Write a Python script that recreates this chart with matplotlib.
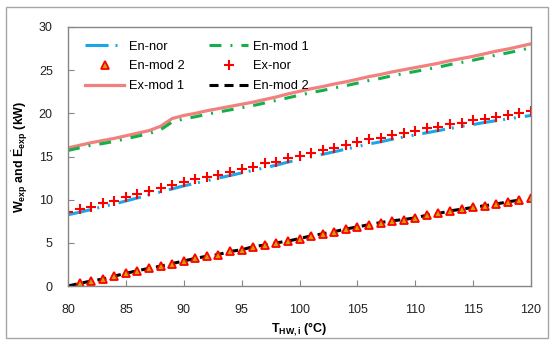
import matplotlib
matplotlib.use("Agg")
import matplotlib.pyplot as plt
from matplotlib.patches import Rectangle

plt.rcParams["font.family"] = ["Liberation Sans", "DejaVu Sans"]
plt.rcParams["mathtext.fontset"] = "custom"
plt.rcParams["mathtext.rm"] = "Liberation Sans"
plt.rcParams["mathtext.bf"] = "Liberation Sans:bold"
plt.rcParams["lines.scale_dashes"] = False

# temperatures 80..120 degC
t_hw = [80, 81, 82, 83, 84, 85, 86, 87, 88, 89, 90, 91, 92, 93, 94, 95, 96, 97, 98, 99, 100,
        101, 102, 103, 104, 105, 106, 107, 108, 109, 110, 111, 112, 113, 114, 115, 116, 117, 118, 119, 120]

en_nor = [8.25, 8.55, 8.85, 9.2, 9.5, 9.85, 10.2, 10.55, 10.9, 11.25, 11.6, 11.9, 12.2, 12.5, 12.8, 13.1,
          13.4, 13.7, 14.0, 14.35, 14.65, 14.95, 15.25, 15.55, 15.85, 16.15, 16.45, 16.7, 17.0, 17.25,
          17.5, 17.75, 18.0, 18.25, 18.5, 18.7, 18.95, 19.15, 19.35, 19.55, 19.75]

ex_nor = [8.6, 8.9, 9.15, 9.6, 9.9, 10.3, 10.65, 11.0, 11.3, 11.65, 12.05, 12.35, 12.65, 12.9, 13.25, 13.55,
          13.8, 14.2, 14.4, 14.8, 15.1, 15.45, 15.7, 15.95, 16.3, 16.7, 17.0, 17.2, 17.5, 17.7,
          18.0, 18.3, 18.45, 18.75, 18.9, 19.2, 19.35, 19.6, 19.8, 20.0, 20.3]

ex_mod1 = [16.0, 16.3, 16.6, 16.85, 17.1, 17.4, 17.7, 18.0, 18.5, 19.4, 19.75, 20.0, 20.3, 20.55, 20.8, 21.05,
           21.3, 21.6, 21.9, 22.25, 22.55, 22.85, 23.1, 23.4, 23.65, 23.95, 24.25, 24.5, 24.8, 25.05,
           25.3, 25.55, 25.8, 26.1, 26.35, 26.6, 26.9, 27.2, 27.45, 27.75, 28.05]

en_mod1 = [15.7, 16.0, 16.3, 16.5, 16.75, 17.05, 17.35, 17.65, 18.1, 19.0, 19.35, 19.6, 19.9, 20.15, 20.4, 20.65,
           20.9, 21.2, 21.5, 21.8, 22.1, 22.4, 22.65, 22.95, 23.2, 23.5, 23.8, 24.05, 24.35, 24.6,
           24.85, 25.1, 25.35, 25.65, 25.9, 26.15, 26.45, 26.75, 27.0, 27.3, 27.6]

# triangles start at 81
t_tri = t_hw[1:]
en_mod2_pts = [0.3, 0.58, 0.8, 1.15, 1.47, 1.77, 2.05, 2.3, 2.6, 2.9, 3.2, 3.5, 3.6, 4.0, 4.2, 4.55, 4.75,
               5.0, 5.2, 5.5, 5.8, 6.05, 6.3, 6.6, 6.85, 7.1, 7.35, 7.55, 7.7, 7.9, 8.2, 8.4, 8.7, 8.9,
               9.1, 9.3, 9.5, 9.75, 9.95, 10.15]

# black dashed line 80..119
t_line2 = t_hw[:-1]
en_mod2_line = [0.0, 0.3, 0.58, 0.8, 1.15, 1.47, 1.77, 2.05, 2.3, 2.6, 2.9, 3.2, 3.45, 3.65, 4.0, 4.2, 4.55,
                4.75, 5.0, 5.2, 5.5, 5.8, 6.05, 6.3, 6.6, 6.85, 7.1, 7.35, 7.55, 7.7, 7.9, 8.2, 8.4, 8.7,
                8.9, 9.1, 9.3, 9.5, 9.75, 9.95]

fig = plt.figure(figsize=(5.52, 3.4), dpi=100)
ax = fig.add_axes([0.1232, 0.1588, 0.8388, 0.7618])

h_ennor, = ax.plot(t_hw, en_nor, color="#1aa7e8", lw=2.2,
                   dashes=(16.6, 5, 1.4, 6.5, 1.4, 6.5), label="En-nor")
h_exmod1, = ax.plot(t_hw, ex_mod1, color="#f2807e", lw=2.3, label="Ex-mod 1")
h_enmod1, = ax.plot(t_hw, en_mod1, color="#13b04a", lw=2.2,
                    dashes=(8.6, 6.5, 1.4, 6.5), label="En-mod 1")
h_line2, = ax.plot(t_line2, en_mod2_line, color="black", lw=2.2,
                   dashes=(6.5, 4.3), label="En-mod 2")
h_exnor, = ax.plot(t_hw, ex_nor, ls="none", marker="+", color="#ff0000",
                   ms=7.5, mew=1.5, label="Ex-nor")
h_tri, = ax.plot(t_tri, en_mod2_pts, ls="none", marker="^", mfc="#c9a400", mec="#ff0000",
                 ms=5.5, mew=1.3, label="En-mod 2")

ax.set_xlim(80, 120)
ax.set_ylim(0, 30)
ax.set_xticks(range(80, 121, 5))
ax.set_yticks(range(0, 31, 5))
ax.tick_params(direction="in", length=4, color="#868686", labelsize=9, labelcolor="#222222")
ax.tick_params(axis="y", pad=11)
ax.tick_params(axis="x", pad=13)
for sp in ax.spines.values():
    sp.set_color("#868686")
    sp.set_linewidth(1.0)

ax.set_xlabel(r"$\mathbf{T_{HW,i}}$ (°C)", fontsize=9, fontweight="bold", labelpad=3)
ax.set_ylabel(r"$\mathbf{W_{exp}}$ and $\dot{\mathbf{E}}_{\mathbf{exp}}$ (kW)",
              fontsize=9, fontweight="bold", labelpad=6)

# order so that rows read: En-nor / En-mod 1, En-mod 2 / Ex-nor, Ex-mod 1 / En-mod 2
handles = [h_ennor, h_tri, h_exmod1, h_enmod1, h_exnor, h_line2]
labels = [h.get_label() for h in handles]
ax.legend(handles, labels, ncol=2, loc="upper left", bbox_to_anchor=(0.037, 0.948),
          frameon=False, fontsize=9.3, handlelength=3.0, handletextpad=0.4,
          columnspacing=1.9, labelspacing=0.6, borderpad=0, borderaxespad=0)

fig.patches.append(Rectangle((6 / 552, 2 / 340), 542 / 552, 331 / 340, transform=fig.transFigure,
                             fill=False, edgecolor="#a6a6a6", lw=1.0))

fig.savefig("out.png", dpi=100)
